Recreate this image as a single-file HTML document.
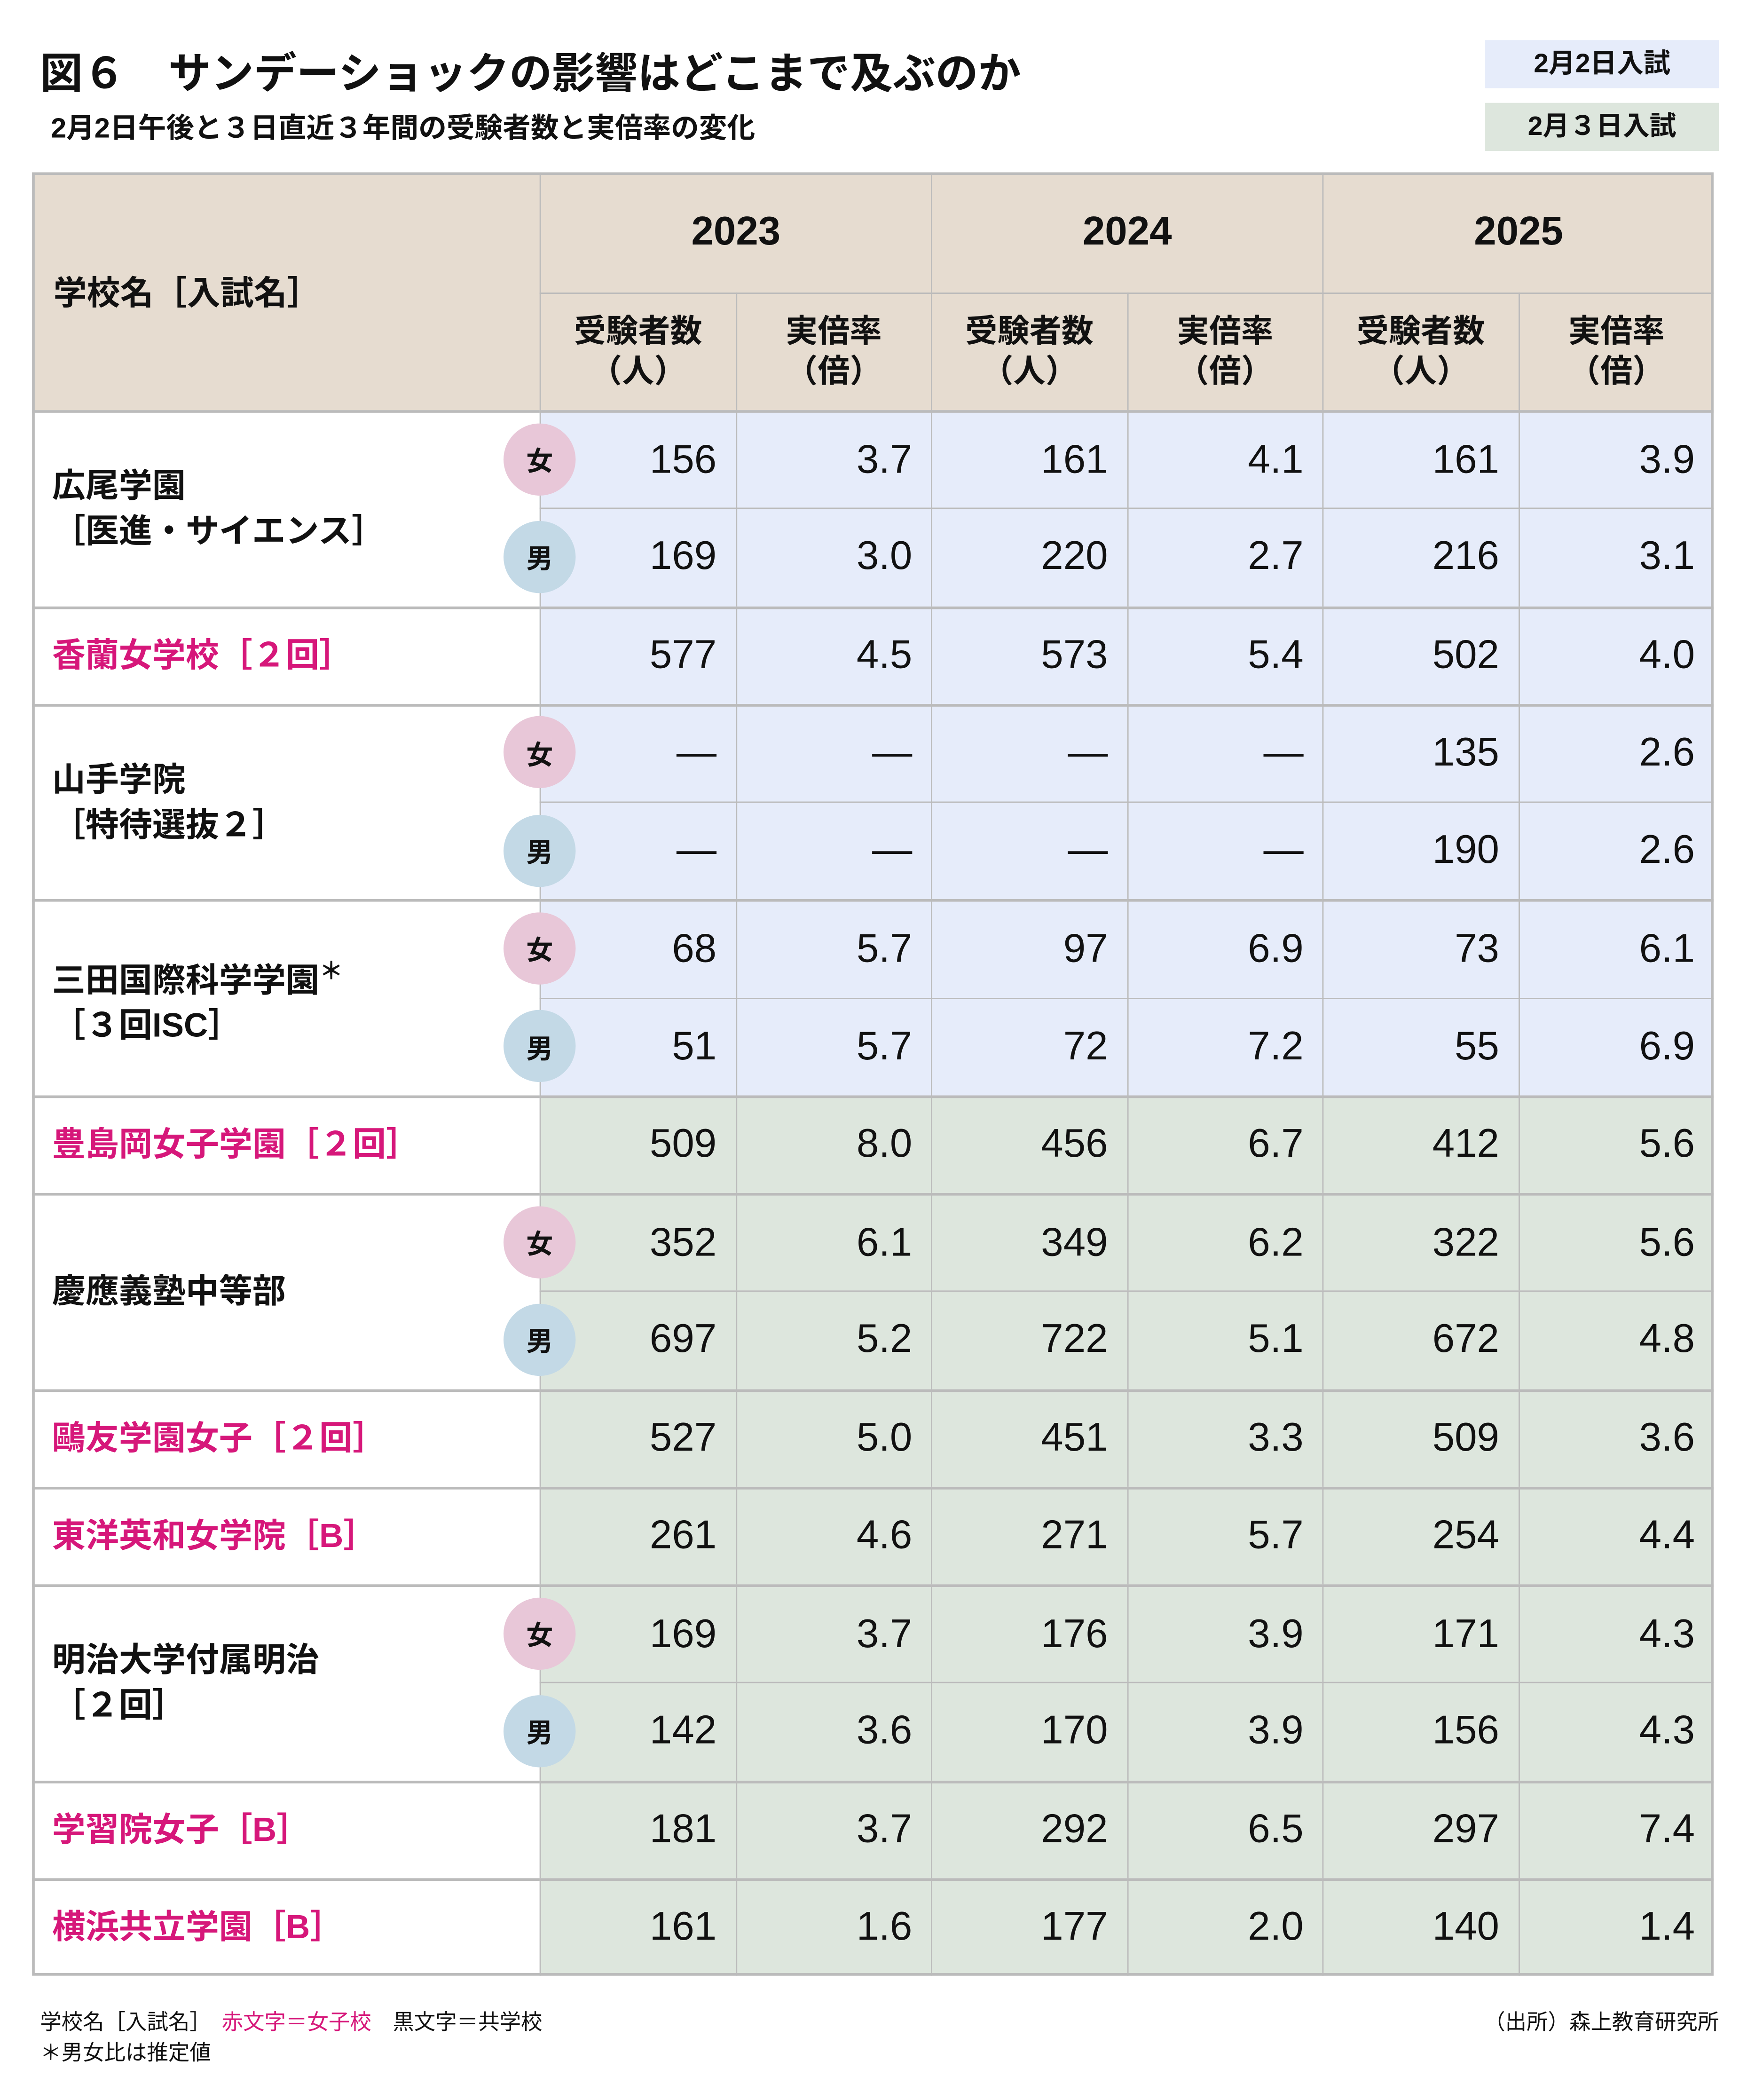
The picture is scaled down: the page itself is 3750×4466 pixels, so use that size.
<!DOCTYPE html>
<html><head><meta charset="utf-8"><style>
html,body{margin:0;padding:0;background:#fff}
body{width:3750px;height:4466px;overflow:hidden;position:relative}
#w{position:absolute;left:0;top:0;width:1320px;height:1572px;transform:scale(2.8409);transform-origin:0 0;font-family:"Liberation Sans","Noto Sans CJK JP",sans-serif;color:#111}
.a{position:absolute;white-space:nowrap}
</style></head><body><div id="w">
<div class="a" style="left:30px;top:30px;font-size:32px;font-weight:bold">図６　サンデーショックの影響はどこまで及ぶのか</div>
<div class="a" style="left:38px;top:80px;font-size:21px;font-weight:bold">2月2日午後と３日直近３年間の受験者数と実倍率の変化</div>
<div class="a" style="left:1112px;top:30px;width:175px;height:36px;background:#e6ecfa;font-size:20px;font-weight:bold;text-align:center;line-height:36px">2月2日入試</div>
<div class="a" style="left:1112px;top:77px;width:175px;height:36px;background:#dde6dd;font-size:20px;font-weight:bold;text-align:center;line-height:36px">2月３日入試</div>
<div id="t"></div>
<div class="a" style="left:30px;top:1500px;font-size:16px">学校名［入試名］　<span style="color:#d6177a">赤文字＝女子校</span>　黒文字＝共学校</div>
<div class="a" style="left:30px;top:1523px;font-size:16px">＊男女比は推定値</div>
<div class="a" style="right:33px;top:1500px;font-size:16px">（出所）森上教育研究所</div>
</div>
<script>
const schools=[["広尾学園","［医進・サイエンス］"],["香蘭女学校［２回］"],["山手学院","［特待選抜２］"],["三田国際科学学園＊","［３回ISC］"],["豊島岡女子学園［２回］"],["慶應義塾中等部"],["鷗友学園女子［２回］"],["東洋英和女学院［B］"],["明治大学付属明治","［２回］"],["学習院女子［B］"],["横浜共立学園［B］"]];
const girlsSchool=[0,1,0,0,1,0,1,1,0,1,1];
const splitRows=[1,0,1,1,0,1,0,0,1,0,0];
const feb3=[0,0,0,0,1,1,1,1,1,1,1];
const years=["2023","2024","2025"];
const values=[
["156","3.7","161","4.1","161","3.9"],["169","3.0","220","2.7","216","3.1"],
["577","4.5","573","5.4","502","4.0"],
["—","—","—","—","135","2.6"],["—","—","—","—","190","2.6"],
["68","5.7","97","6.9","73","6.1"],["51","5.7","72","7.2","55","6.9"],
["509","8.0","456","6.7","412","5.6"],
["352","6.1","349","6.2","322","5.6"],["697","5.2","722","5.1","672","4.8"],
["527","5.0","451","3.3","509","3.6"],
["261","4.6","271","5.7","254","4.4"],
["169","3.7","176","3.9","171","4.3"],["142","3.6","170","3.9","156","4.3"],
["181","3.7","292","6.5","297","7.4"],
["161","1.6","177","2.0","140","1.4"]];
const W=document.getElementById('t');
const L=24,R=1283,T=129,NC=404,CW=(R-NC)/6,RH=73.25,HB=307;
function box(name,x,y,w,h,css,txt){const d=document.createElement('div');d.className='a';


d.style.cssText=`left:${x}px;top:${y}px;width:${w}px;height:${h}px;`+css;if(txt!==undefined)d.innerHTML=txt;W.appendChild(d);return d;}
box('header-bg',L,T,R-L,HB-T,'background:#e6dcd0;');
box('name-header',40,T,300,HB-T,'display:flex;align-items:center;font-size:25px;font-weight:bold','学校名［入試名］');
years.forEach((y,i)=>{box('year-'+y,NC+i*2*CW,T,2*CW,90,'display:flex;align-items:center;justify-content:center;font-size:30px;font-weight:bold;border-left:1.5px solid #bbb;box-sizing:border-box',y);
['受験者数<br>（人）','実倍率<br>（倍）'].forEach((s,j)=>box('subheader',NC+(i*2+j)*CW,T+90,CW,HB-T-90,'display:flex;align-items:center;justify-content:center;text-align:center;font-size:24px;font-weight:bold;line-height:30px;border-left:1.5px solid #bbb;border-top:1.5px solid #bbb;box-sizing:border-box',s));});
let r=0;
schools.forEach((nm,si)=>{const n=splitRows[si]?2:1;const y0=HB+r*RH;const col=girlsSchool[si]?'#d6177a':'#111';
box('school-name',L,y0,NC-L,n*RH,`background:#fff;border-top:2px solid #bbb;box-sizing:border-box;display:flex;flex-direction:column;justify-content:center;padding-left:15px;font-size:25px;font-weight:bold;color:${col};line-height:34px`,nm.map(s=>'<div>'+s.replace('＊','<sup style="font-size:18px">＊</sup>')+'</div>').join(''));
for(let k=0;k<n;k++){const yy=y0+k*RH;const bg=feb3[si]?'#dde6dd':'#e6ecfa';
values[r+k].forEach((v,c)=>box('cell-value',NC+c*CW,yy,CW,RH,`background:${bg};border-left:1.5px solid #bbb;border-top:${k==0?2:1.5}px solid #bbb;box-sizing:border-box;display:flex;align-items:center;justify-content:flex-end;padding-right:14px;font-size:30px`,v));
if(n==2){const g=k==0;box(g?'badge-female':'badge-male',NC-27,yy+RH/2-27,54,54,`border-radius:50%;background:${g?'#e8c7d8':'#c3d9e6'};display:flex;align-items:center;justify-content:center;font-size:20px;font-weight:bold`,g?'女':'男');}}
r+=n;});
box('table-border',L,T,R-L,HB+r*RH-T,'border:2px solid #bbb;box-sizing:border-box;pointer-events:none');
</script></body></html>
